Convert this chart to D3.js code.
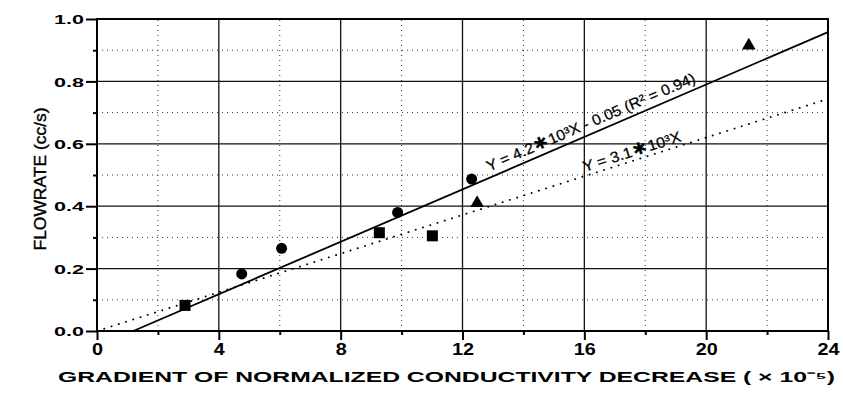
<!DOCTYPE html>
<html>
<head>
<meta charset="utf-8">
<script src="https://cdn.jsdelivr.net/npm/d3@7/dist/d3.min.js"></script>
<style>
html,body{margin:0;padding:0;background:#fff;}
svg{display:block;}
text{font-family:"Liberation Sans",Arial,sans-serif;fill:#000;}
</style>
</head>
<body>
<svg id="chart" width="843" height="395"></svg>
<script>
// ---- data ----
const circlesX = [4.75, 6.06, 9.87, 12.3];
const circlesY = [0.183, 0.265, 0.38, 0.487];
const squaresX = [2.89, 9.27, 11.01];
const squaresY = [0.082, 0.315, 0.305];
const trianglesX = [12.48, 21.4];
const trianglesY = [0.41, 0.915];
const xMajorTicks = [0, 4, 8, 12, 16, 20, 24];
const xMinorTicks = [2, 6, 10, 14, 18, 22];
const yMajorTicks = [0.0, 0.2, 0.4, 0.6, 0.8, 1.0];
const yMinorTicks = [0.1, 0.3, 0.5, 0.7, 0.9];
const fitSlope = 0.042, fitIntercept = -0.05;   // Y = 4.2*10^3 X - 0.05
const refSlope = 0.031;                          // Y = 3.1*10^3 X
const fitLabelParts = ["Y = 4.2", "\u2217", "10\u00B3X - 0.05 (R\u00B2 = 0.94)"];
const refLabelParts = ["Y = 3.1", "\u2217", "10\u00B3X"];
const xTitle = "GRADIENT OF NORMALIZED CONDUCTIVITY DECREASE ( \u00D7 10\u207B\u2075)";
const yTitle = "FLOWRATE (cc/s)";

const svg = d3.select("#chart");
const W = 843, H = 395;
const m = {left: 97, top: 19, right: 15, bottom: 64};
const iw = W - m.left - m.right, ih = H - m.top - m.bottom;
const x = d3.scaleLinear().domain([0, 24]).range([m.left, m.left + iw]);
const y = d3.scaleLinear().domain([0, 1.0]).range([m.top + ih, m.top]);

const g = svg.append("g");

// minor dotted grid
g.selectAll(".vminor").data(xMinorTicks).enter().append("line")
  .attr("x1", d => x(d)).attr("x2", d => x(d)).attr("y1", y(0)).attr("y2", y(1))
  .attr("stroke", "#333").attr("stroke-width", 1).attr("stroke-dasharray", "1,4");
g.selectAll(".hminor").data(yMinorTicks).enter().append("line")
  .attr("x1", x(0)).attr("x2", x(24)).attr("y1", d => y(d)).attr("y2", d => y(d))
  .attr("stroke", "#333").attr("stroke-width", 1).attr("stroke-dasharray", "1,4");

// major solid grid
g.selectAll(".vmajor").data(xMajorTicks.slice(1, -1)).enter().append("line")
  .attr("x1", d => x(d)).attr("x2", d => x(d)).attr("y1", y(0)).attr("y2", y(1))
  .attr("stroke", "#111").attr("stroke-width", 1.3);
g.selectAll(".hmajor").data(yMajorTicks.slice(1, -1)).enter().append("line")
  .attr("x1", x(0)).attr("x2", x(24)).attr("y1", d => y(d)).attr("y2", d => y(d))
  .attr("stroke", "#111").attr("stroke-width", 1.3);

// frame
g.append("rect").attr("x", x(0)).attr("y", y(1)).attr("width", x(24) - x(0)).attr("height", y(0) - y(1))
  .attr("fill", "none").attr("stroke", "#000").attr("stroke-width", 2);

// axes
const xAxis = d3.axisBottom(x).tickValues(xMajorTicks).tickSize(9).tickFormat(d3.format("d"));
const xa = svg.append("g").attr("transform", `translate(0,${y(0)})`).call(xAxis);
xa.select(".domain").remove();
xa.selectAll(".tick line").attr("stroke", "#000").attr("stroke-width", 2);
xa.selectAll(".tick text").attr("font-size", 16).attr("font-weight", "bold")
  .attr("font-family", "Liberation Sans, Arial, sans-serif").attr("fill", "#000")
  .attr("y", 13).attr("dy", "0.71em")
  .attr("textLength", d => String(d).length * 11).attr("lengthAdjust", "spacingAndGlyphs");
const xAxisMinor = d3.axisBottom(x).tickValues(xMinorTicks).tickSize(4).tickFormat("");
const xam = svg.append("g").attr("transform", `translate(0,${y(0)})`).call(xAxisMinor);
xam.select(".domain").remove();
xam.selectAll(".tick line").attr("stroke", "#000").attr("stroke-width", 2);

const yAxis = d3.axisLeft(y).tickValues(yMajorTicks).tickSize(11).tickFormat(d3.format(".1f"));
const ya = svg.append("g").attr("transform", `translate(${x(0)},0)`).call(yAxis);
ya.select(".domain").remove();
ya.selectAll(".tick line").attr("stroke", "#000").attr("stroke-width", 2);
ya.selectAll(".tick text").attr("font-size", 13).attr("font-weight", "bold")
  .attr("font-family", "Liberation Sans, Arial, sans-serif").attr("fill", "#000")
  .attr("x", -13).attr("dy", "0.36em")
  .attr("textLength", 30).attr("lengthAdjust", "spacingAndGlyphs");
const yAxisMinor = d3.axisLeft(y).tickValues(yMinorTicks).tickSize(4).tickFormat("");
const yam = svg.append("g").attr("transform", `translate(${x(0)},0)`).call(yAxisMinor);
yam.select(".domain").remove();
yam.selectAll(".tick line").attr("stroke", "#000").attr("stroke-width", 2);

// fit lines
const fitX0 = -fitIntercept / fitSlope;
const line = d3.line().x(d => x(d[0])).y(d => y(d[1]));
g.append("path").datum([[fitX0, 0], [24, fitSlope * 24 + fitIntercept]])
  .attr("d", line).attr("fill", "none").attr("stroke", "#000").attr("stroke-width", 1.8);
g.append("path").datum([[0, 0], [24, refSlope * 24]])
  .attr("d", line).attr("fill", "none").attr("stroke", "#000").attr("stroke-width", 1.9)
  .attr("stroke-dasharray", "0.1,7.5").attr("stroke-linecap", "round");

// line labels
function pxAngle(s) {
  const dx = x(10) - x(0), dy = y(0) - y(10 * s);
  return -Math.atan2(dy, dx) * 180 / Math.PI;
}
function addLabel(parts, xs, slope, icpt, off, len) {
  const px = x(xs), py = y(slope * xs + icpt);
  const t = g.append("text").attr("transform", `translate(${px},${py}) rotate(${pxAngle(slope)})`)
    .attr("x", 0).attr("y", -off).attr("font-size", 15)
    .attr("stroke", "#000").attr("stroke-width", 0.25)
    .attr("textLength", len).attr("lengthAdjust", "spacingAndGlyphs");
  parts.forEach((p, i) => {
    const s = t.append("tspan").text(p);
    if (i === 1) s.attr("font-size", 19).attr("font-family", "DejaVu Sans").attr("font-weight", "bold");
  });
}
addLabel(fitLabelParts, 12.95, fitSlope, fitIntercept, 6, 226);
addLabel(refLabelParts, 16.05, refSlope, 0, 4, 102);

// markers
g.selectAll(".circ").data(circlesX.map((d, i) => [d, circlesY[i]])).enter().append("circle")
  .attr("cx", d => x(d[0])).attr("cy", d => y(d[1])).attr("r", 5.5).attr("fill", "#000");
g.selectAll(".sq").data(squaresX.map((d, i) => [d, squaresY[i]])).enter().append("rect")
  .attr("x", d => x(d[0]) - 5.5).attr("y", d => y(d[1]) - 5.5).attr("width", 11).attr("height", 11).attr("fill", "#000");
const tri = d3.symbol().type(d3.symbolTriangle).size(80);
g.selectAll(".tri").data(trianglesX.map((d, i) => [d, trianglesY[i]])).enter().append("path")
  .attr("transform", d => `translate(${x(d[0])},${y(d[1])})`).attr("d", tri).attr("fill", "#000");

// titles
svg.append("text").attr("x", 58).attr("y", 382).attr("font-size", 15).attr("font-weight", "bold")
  .attr("textLength", 777).attr("lengthAdjust", "spacingAndGlyphs").text(xTitle);
svg.append("text").attr("transform", `translate(46,${m.top + ih / 2 + 4}) rotate(-90)`)
  .attr("text-anchor", "middle").attr("font-size", 17)
  .attr("stroke", "#000").attr("stroke-width", 0.4)
  .attr("textLength", 143).attr("lengthAdjust", "spacingAndGlyphs").text(yTitle);
</script>
</body>
</html>
